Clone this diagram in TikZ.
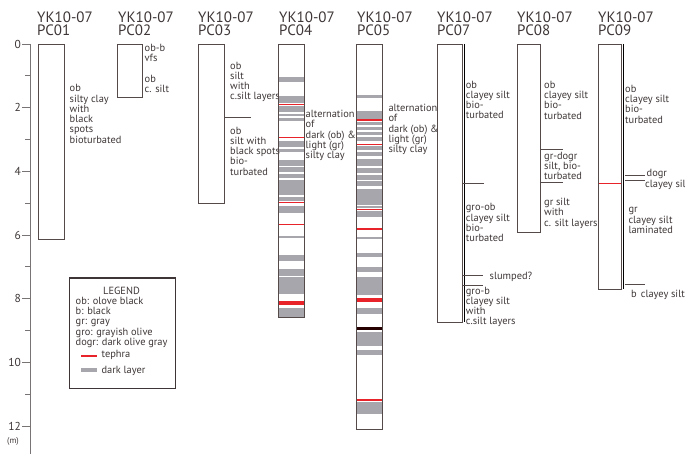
\documentclass[tikz,border=0pt]{standalone}
\usepackage{fontspec}
\setmainfont{PT Sans}
\definecolor{txt}{RGB}{62,54,54}
\definecolor{edge}{RGB}{84,74,74}
\definecolor{shade}{RGB}{175,172,172}
\definecolor{layer}{RGB}{166,166,172}
\definecolor{teph}{RGB}{232,36,42}
\definecolor{axisc}{RGB}{120,116,116}
\newcommand\bodyfont{\fontsize{10.4}{10.25}\selectfont\lineskiplimit=-6pt}
\newcommand\titlefont{\fontsize{15}{13}\selectfont\lineskiplimit=-6pt}
\newcommand\fstrut{\rule{0pt}{7.5pt}}
\tikzset{
  lbl/.style={anchor=north west, inner sep=0pt, align=left, font=\bodyfont, text=txt, execute at begin node=\fstrut},
  lone/.style={anchor=west, inner sep=0pt, font=\bodyfont, text=txt},
  ttl/.style={anchor=north west, inner sep=0pt, align=left, font=\titlefont, text=txt},
  core/.style={draw=edge, line width=0.9pt},
  sep/.style={draw=edge, line width=0.7pt},
  tline/.style={draw=teph, line width=1.3pt},
}
\begin{document}
\begin{tikzpicture}[x=1pt,y=-1pt]
\useasboundingbox (0,0) rectangle (685,454);

% depth axis
\draw[axisc, line width=1pt] (30,44) -- (30,454);
\foreach \m in {0,2,...,12}{
  \draw[axisc, line width=0.8pt] (22,{44+31.83*\m}) -- (30,{44+31.83*\m});
  \node[anchor=east, inner sep=0pt, font=\fontsize{11.5}{12}\selectfont, text=txt] (ax\m) at (21,{44+31.83*\m}) {\m};
}
\foreach \m in {1,3,...,11}{
  \draw[axisc, line width=0.8pt] (25,{44+31.83*\m}) -- (30,{44+31.83*\m});
}
\node[anchor=center, inner sep=0pt, font=\fontsize{8.5}{9}\selectfont, text=txt] (unit) at (13,441) {(m)};

% titles
\node[ttl] (t01) at (37,12) {YK10-07\\PC01};
\node[ttl] (t02) at (118,12) {YK10-07\\PC02};
\node[ttl] (t03) at (198,12) {YK10-07\\PC03};
\node[ttl] (t04) at (279,12) {YK10-07\\PC04};
\node[ttl] (t05) at (357,12) {YK10-07\\PC05};
\node[ttl] (t07) at (437,12) {YK10-07\\PC07};
\node[ttl] (t08) at (517,12) {YK10-07\\PC08};
\node[ttl] (t09) at (598,12) {YK10-07\\PC09};

% PC01
\draw[core] (38,44) rectangle (64,239);
\node[lbl] (d01) at (69.5,84.5) {ob\\silty clay\\with\\black\\spots\\bioturbated};

% PC02
\draw[core] (117.5,44) rectangle (142.5,97);
\node[lbl] (d02a) at (144.5,44) {ob-b\\vfs};
\node[lbl] (d02b) at (144.5,75) {ob\\c. silt};

% PC03
\draw[core] (198.5,44) rectangle (224,203);
\node[lbl] (d03a) at (230,61.7) {ob\\silt\\with\\c.silt layers};
\draw[sep] (224,117.3) -- (251,117.3);
\node[lbl] (d03b) at (230,126.7) {ob\\silt with\\black spots\\bio-\\turbated};

% PC04 layers
\foreach \a/\b in {77/82, 96/103.3, 106/112, 114/116.5, 118.5/121.5, 141/147, 149/152, 160/166, 167.5/172, 174/178, 180/195.5, 197/201, 206/213.3, 236/237.7, 255/260.7, 269/276, 277.5/294, 307.7/317.5}
  \fill[layer] (278.3,\a) rectangle (304.3,\b);
\foreach \a in {104.3, 137.7, 202.7, 224.2}
  \draw[tline] (278.3,\a) -- (304.3,\a);
\fill[teph] (278.3,301) rectangle (304.3,305);
\draw[core] (278.3,44) rectangle (304.3,317.5);
\node[lbl] (d04) at (305.5,110) {alternation\\of\\dark (ob) \&\\light (gr)\\silty clay};

% PC05 layers
\foreach \a/\b in {95/97.7, 111/119.3, 122.5/125, 127/130, 132/135, 137/141, 146.5/150, 152/156, 159/166.5, 168/173, 175/180, 181.5/186.5, 189/205, 206/208.5, 211.5/217, 237.3/239, 253.3/257.3, 266.7/271.7, 276.7/295, 308.3/314, 331.7/346, 350/355, 401.5/414}
  \fill[layer] (356.7,\a) rectangle (382.3,\b);
\foreach \a in {120, 144.5, 209.2, 229, 400}
  \draw[tline] (356.7,\a) -- (382.3,\a);
\fill[teph] (356.7,297.5) rectangle (382.3,301.5);
\fill[black!85!red] (356.7,326.7) rectangle (382.3,330);
\draw[core] (356.7,44) rectangle (382.3,429.5);
\node[lbl] (d05) at (388.3,104) {alternation\\of\\dark (ob) \&\\light (gr)\\silty clay};

% PC07
\draw[shade, line width=0.8pt] (464,44) -- (464,322);
\draw[core] (437.3,44) rectangle (462.3,322);
\node[lbl] (d07a) at (465.7,80.7) {ob\\clayey silt\\bio-\\turbated};
\draw[sep] (462.3,183.3) -- (483.5,183.3);
\node[lbl] (d07b) at (465.7,203.3) {gro-ob\\clayey silt\\bio-\\turbated};
\draw[sep] (462.3,275.7) -- (483,275.7);
\node[lone] (d07s) at (489.5,276.5) {slumped?};
\draw[sep] (462.3,285) -- (483,285);
\node[lbl] (d07c) at (465.7,286.7) {gro-b\\clayey silt\\with\\c.silt layers};

% PC08
\draw[core] (517.5,44) rectangle (540.7,232);
\node[lbl] (d08a) at (544,81) {ob\\clayey silt\\bio-\\turbated};
\draw[sep] (540.7,149.5) -- (563,149.5);
\node[lbl] (d08b) at (544,152) {gr-dogr\\silt, bio-\\turbated};
\draw[sep] (540.7,182.7) -- (563,182.7);
\node[lbl] (d08c) at (544,198) {gr silt\\with\\c. silt layers};

% PC09
\draw[shade, line width=0.8pt] (623.3,44) -- (623.3,289);
\draw[tline] (598.3,183.3) -- (621.7,183.3);
\draw[core] (598.3,44) rectangle (621.7,289);
\node[lbl] (d09a) at (625,85) {ob\\clayey silt\\bio-\\turbated};
\draw[sep] (625,175.7) -- (645,175.7);
\draw[sep] (625,180) -- (645,180);
\node[lone] (d09d) at (646.5,173.5) {dogr};
\node[lone] (d09e) at (645,184.5) {clayey silt};
\node[lbl] (d09b) at (628.3,207.3) {gr\\clayey silt\\laminated};
\draw[sep] (625,284.3) -- (645,284.3);
\node[lone] (d09c) at (631,294.5) {b\hspace{4pt}clayey silt};

% legend
\draw[draw=txt, line width=1.6pt] (69.3,278) rectangle (175.5,388.3);
\node[anchor=center, inner sep=0pt, font=\bodyfont, text=txt] (legt) at (121.5,290.8) {LEGEND};
\node[lbl] (legl) at (75.5,297) {ob: olove black\\b: black\\gr: gray\\gro: grayish olive\\dogr: dark olive gray};
\fill[teph] (81,354.8) rectangle (96.8,356.6);
\node[lone] (legr) at (101.4,354.5) {tephra};
\fill[layer] (81,367.5) rectangle (96.8,371.5);
\node[lone] (legg) at (101.4,371) {dark layer};
\end{tikzpicture}
\end{document}
